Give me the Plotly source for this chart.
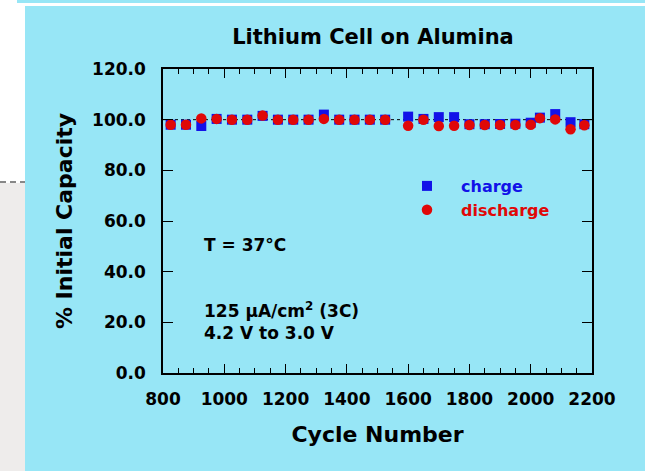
import plotly.graph_objects as go

# Cycle numbers and capacity retention (% of initial)
cycles = [825, 875, 925, 975, 1025, 1075, 1125, 1175, 1225, 1275, 1325, 1375, 1425, 1475,
          1525, 1600, 1650, 1700, 1750, 1800, 1850, 1900, 1950, 2000, 2030, 2080, 2130, 2175]
charge = [98.0, 98.0, 97.5, 100.3, 100.0, 100.0, 101.5, 100.0, 100.0, 100.0, 102.0, 100.0,
          100.0, 100.0, 100.0, 101.2, 100.3, 101.0, 101.0, 98.2, 98.2, 98.3, 98.4, 98.8,
          100.8, 102.2, 99.0, 98.2]
discharge = [98.0, 98.0, 100.5, 100.3, 100.0, 100.0, 101.6, 100.0, 100.0, 100.0, 100.3, 100.0,
             100.0, 100.0, 100.0, 97.6, 100.0, 97.5, 97.6, 97.9, 97.9, 97.9, 97.9, 98.0,
             100.6, 100.1, 96.2, 97.8]

y_ticks = [0, 20, 40, 60, 80, 100, 120]
x_ticks = [800, 1000, 1200, 1400, 1600, 1800, 2000, 2200]

W, H = 645, 471
PL, PR, PT, PB = 163, 592, 69, 373   # plot-area edges in pixels

def xp(px):
    return (px - PL) / (PR - PL)

def yp(py):
    return (PB - py) / (PB - PT)

FONT = "DejaVu Sans"
CYAN = "#97e6f6"
BLUE = "#1212e8"
RED = "#e00808"

fig = go.Figure()
fig.add_trace(go.Scatter(
    x=cycles, y=charge, mode="markers", name=f"<span style='color:{BLUE}'>charge</span>",
    legendgroup="c",
    marker=dict(symbol="square", size=10, color=BLUE, line=dict(width=0)),
))
fig.add_trace(go.Scatter(
    x=cycles, y=discharge, mode="markers", name=f"<span style='color:{RED}'>discharge</span>",
    legendgroup="d",
    marker=dict(symbol="circle", size=10.5, color=RED, line=dict(width=0)),
))

shapes = [
    # cyan panel behind the chart
    dict(type="rect", xref="paper", yref="paper", layer="below",
         x0=xp(17), x1=xp(W + 2), y0=yp(3), y1=yp(-2), fillcolor=CYAN, line_width=0),
    dict(type="rect", xref="paper", yref="paper", layer="below",
         x0=xp(25), x1=xp(W + 2), y0=yp(H + 2), y1=yp(6), fillcolor=CYAN, line_width=0),
    # grey margin strip on the left
    dict(type="rect", xref="paper", yref="paper", layer="below",
         x0=xp(-2), x1=xp(25), y0=yp(H + 2), y1=yp(183), fillcolor="#eeeceb", line_width=0),
    dict(type="line", xref="paper", yref="paper", layer="below",
         x0=xp(0), x1=xp(25), y0=yp(182), y1=yp(182),
         line=dict(color="#111111", width=1, dash="6px,4px")),
    # 100 % reference line
    dict(type="line", xref="x", yref="y", layer="below",
         x0=800, x1=2200, y0=100, y1=100,
         line=dict(color="black", width=1, dash="dot")),
]

annotations = [
    dict(text="T = 37°C", xref="paper", yref="paper", x=xp(202), y=yp(245),
         xanchor="left", yanchor="middle", showarrow=False, align="left",
         font=dict(family=FONT, size=17, weight="bold", color="black")),
    dict(text="125 µA/cm<sup>2</sup> (3C)<br>4.2 V to 3.0 V", xref="paper", yref="paper",
         x=xp(202), y=yp(321), xanchor="left", yanchor="middle", showarrow=False,
         align="left", font=dict(family=FONT, size=17, weight="bold", color="black")),
]

axis_common = dict(
    showline=True, linecolor="black", linewidth=1.5, mirror="ticks",
    showgrid=False, zeroline=False, ticks="inside", tickcolor="black",
    tickfont=dict(family=FONT, size=17, weight="bold", color="black"),
)

fig.update_layout(
    width=W, height=H,
    margin=dict(l=PL, r=W - PR, t=PT, b=H - PB, pad=0),
    paper_bgcolor="white", plot_bgcolor="white",
    font=dict(family=FONT, weight="bold", color="black"),
    title=dict(text="Lithium Cell on Alumina", xref="container", yref="container",
               x=373 / W, y=1 - 37 / H, xanchor="center", yanchor="middle",
               font=dict(family=FONT, size=21, weight="bold", color="black")),
    xaxis=dict(range=[800, 2200], tickvals=x_ticks, ticklen=9, tickwidth=1.2,
               ticklabelstandoff=10,
               minor=dict(dtick=50, tick0=800, ticks="inside", ticklen=5,
                          tickcolor="black", tickwidth=1),
               title=dict(text="Cycle Number", standoff=18,
                          font=dict(family=FONT, size=22, weight="bold", color="black")),
               **axis_common),
    yaxis=dict(range=[0, 120], tickvals=y_ticks, tickformat=".1f", ticklen=10,
               tickwidth=1.2, ticklabelstandoff=12,
               title=dict(text="% Initial Capacity", standoff=13,
                          font=dict(family=FONT, size=22, weight="bold", color="black")),
               **axis_common),
    showlegend=True,
    legend=dict(x=xp(393), y=yp(169), xanchor="left", yanchor="top",
                bgcolor="rgba(0,0,0,0)", borderwidth=0, itemwidth=58,
                traceorder="grouped", tracegroupgap=0,
                font=dict(family=FONT, size=16, weight="bold")),
    shapes=shapes,
    annotations=annotations,
)

fig.write_html("out.html")
